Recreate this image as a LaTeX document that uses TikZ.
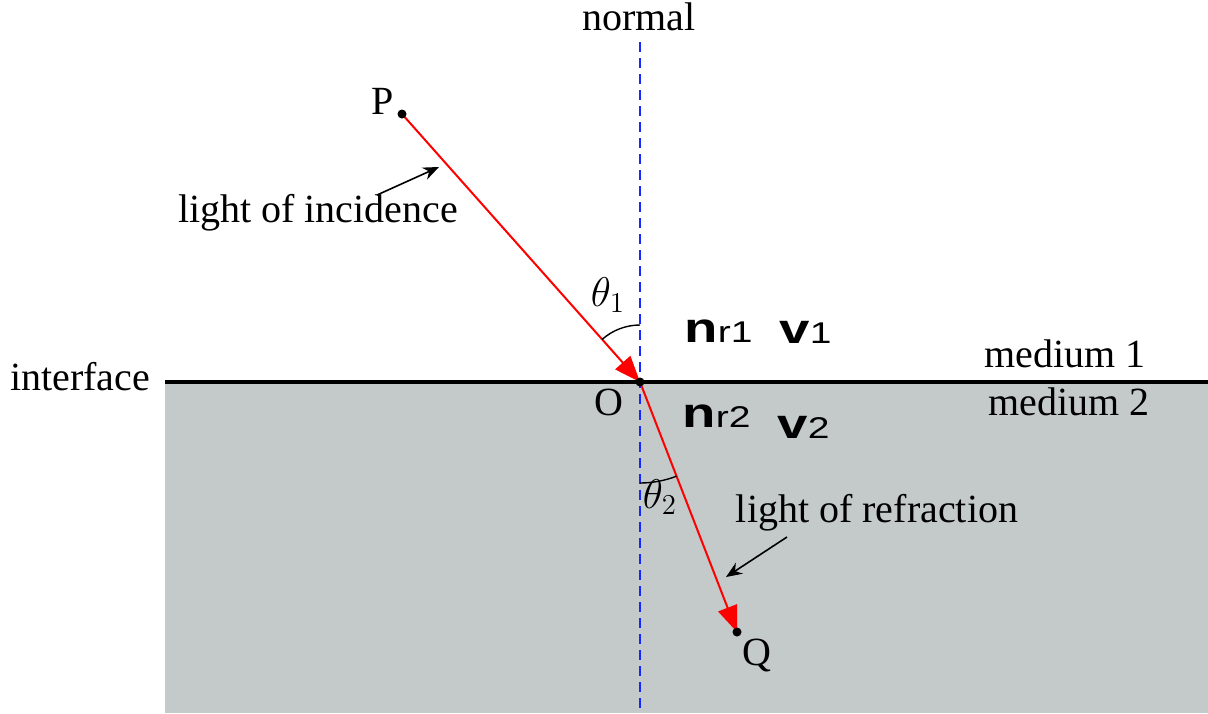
\documentclass[tikz,border=0pt]{standalone}
\usepackage{fontspec}
\setmainfont{Liberation Serif}
\newfontfamily\vecfont{Liberation Sans}
\usetikzlibrary{arrows.meta}
\definecolor{mediumgray}{RGB}{196,202,202}
\definecolor{rayred}{RGB}{255,0,0}
\definecolor{normalblue}{RGB}{20,40,255}
\tikzset{
  rf sheet/.style={
    x=0.5pt,
    y=-0.5pt,
    line cap=butt,
    line join=round
  },
  rf ray/.style={
    draw=rayred,
    line width=1pt,
    -{Triangle[length=13pt,width=10pt]},
    rayred
  },
  rf label/.style={
    font=\fontsize{20}{22}\selectfont,
    inner sep=0pt,
    anchor=base
  },
  rf pointer/.style={
    line width=0.8pt,
    -{Stealth[length=8pt,width=6.5pt]}
  },
  rf dot/.style={
    circle,
    fill=black,
    inner sep=0pt,
    minimum size=4.5pt
  }
}
\newcommand{\rfindex}[2]{\scalebox{1.3}[1]{{\vecfont\fontsize{21}{21}\selectfont\bfseries #1}{\vecfont\fontsize{15}{15}\selectfont #2}}}

\begin{document}
\begin{tikzpicture}[rf sheet]

  \useasboundingbox (0,0) rectangle (1208,713);

  % the two media
  \fill[mediumgray] (165,383) rectangle (1208,713);
  \draw[line width=2pt] (165,382) -- (1208,382);

  % normal
  \node[rf label] (normal) at (639,30) {normal};
  \coordinate (normal top) at (640,42);
  \coordinate (normal bottom) at (640,713);
  \draw[normalblue,line width=0.8pt,dash pattern=on 5pt off 3pt] (normal top) -- (normal bottom);

  % points
  \coordinate (P) at (402,114);
  \coordinate (O) at (640,382);
  \coordinate (Q) at (737,632);

  \draw[rf ray] (P) -- (O);
  \draw[rf ray] (O) -- (Q);

  \node[rf dot] (P dot) at (P) {};
  \node[rf dot] (O dot) at (O) {};
  \node[rf dot] (Q dot) at (Q) {};

  \node[rf label] (P label) at (383,114) {P};
  \node[rf label] (O label) at (609,415) {O};
  \node[rf label] (Q label) at (757,665) {Q};

  % angles
  \draw[line width=0.7pt] (640,325) arc[start angle=-90,end angle=-131.6,radius=57];
  \node[rf label] (theta1) at (608,306) {$\theta_1$};
  \draw[line width=0.7pt] (640,483) arc[start angle=90,end angle=68.8,radius=101];
  \node[rf label] (theta2) at (660,508) {$\theta_2$};

  % indices and speeds
  \node[rf label,anchor=base west] (nr1) at (684,342) {\rfindex{n}{r1}};
  \node[rf label,anchor=base west] (v1) at (779,343) {\rfindex{v}{1}};
  \node[rf label,anchor=base west] (nr2) at (682,427) {\rfindex{n}{r2}};
  \node[rf label,anchor=base west] (v2) at (777,438) {\rfindex{v}{2}};

  % media and interface
  \node[rf label] (interface) at (80,390) {interface};
  \node[rf label] (medium1) at (1065,367) {medium 1};
  \node[rf label] (medium2) at (1069,415) {medium 2};

  % ray names
  \node[rf label] (incidence) at (318,222) {light of incidence};
  \coordinate (inc tail) at (377,195);
  \coordinate (inc head) at (439,167);
  \draw[rf pointer] (inc tail) -- (inc head);

  \node[rf label] (refraction) at (877,522) {light of refraction};
  \coordinate (ref tail) at (787,537);
  \coordinate (ref head) at (726,577);
  \draw[rf pointer] (ref tail) -- (ref head);

\end{tikzpicture}
\end{document}
